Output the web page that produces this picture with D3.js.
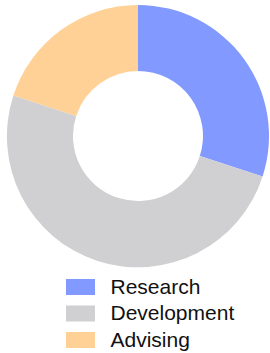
<!DOCTYPE html>
<html><head><meta charset="utf-8">
<script src="https://cdn.jsdelivr.net/npm/d3@7"></script>
<style>html,body{margin:0;padding:0;background:#fff;overflow:hidden}</style>
</head><body>
<svg id="c" width="270" height="353"></svg>
<script>
const categories = ["Research", "Development", "Advising"];
const values = [30, 50, 20];
const colors = ["#8299ff", "#d0d0d2", "#ffd196"];

const svg = d3.select("#c");
const cx = 138, cy = 136, rOuter = 131, rInner = 65;
const pie = d3.pie().sort(null).value(d => d.v);
const arc = d3.arc().innerRadius(rInner).outerRadius(rOuter);
const data = categories.map((c, i) => ({c, v: values[i], col: colors[i]}));
const g = svg.append("g").attr("transform", `translate(${cx},${cy})`);
g.selectAll("path").data(pie(data)).join("path")
  .attr("d", arc).attr("fill", d => d.data.col);

const leg = svg.append("g");
const y = d3.scalePoint().domain(categories).range([279, 332]);
leg.selectAll("rect").data(data).join("rect")
  .attr("x", 66).attr("y", d => y(d.c)).attr("width", 29).attr("height", 16)
  .attr("fill", d => d.col);
leg.selectAll("text").data(data).join("text")
  .attr("x", 110.5).attr("y", d => y(d.c) + 14.5)
  .attr("font-family", "Liberation Sans, Arial, sans-serif")
  .attr("font-size", 21).attr("fill", "#111")
  .text(d => d.c);
</script>
</body></html>
